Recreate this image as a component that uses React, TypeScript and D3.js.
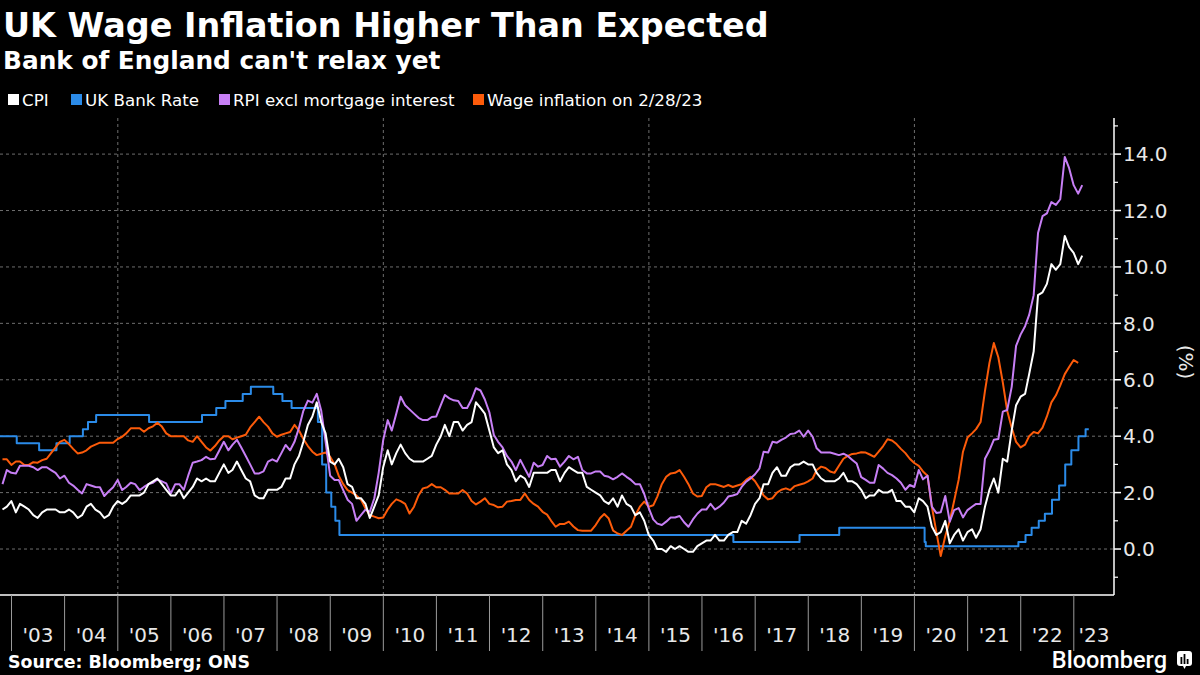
import React from "react";
import * as d3 from "d3";

// ---------- DATA (monthly, Oct 2002 .. Feb 2023) ----------
const SERIES_START_YEAR = 2002;
const SERIES_START_MONTH = 9; // October (0-based)

const cpi: number[] = [
  1.4, 1.5, 1.7,
  1.3, 1.6, 1.5, 1.4, 1.2, 1.1, 1.3, 1.4, 1.4, 1.4, 1.3, 1.3,
  1.4, 1.3, 1.1, 1.2, 1.5, 1.6, 1.4, 1.3, 1.1, 1.2, 1.5, 1.7,
  1.6, 1.7, 1.9, 1.9, 1.9, 2.0, 2.3, 2.4, 2.5, 2.3, 2.1, 1.9,
  1.9, 2.1, 1.8, 2.0, 2.2, 2.5, 2.4, 2.5, 2.4, 2.4, 2.7, 3.0,
  2.7, 2.8, 3.1, 2.8, 2.5, 2.4, 1.9, 1.8, 1.8, 2.1, 2.1, 2.1,
  2.2, 2.5, 2.5, 3.0, 3.3, 3.8, 4.4, 4.7, 5.2, 4.5, 4.1, 3.1,
  3.0, 3.2, 2.9, 2.3, 2.2, 1.8, 1.8, 1.6, 1.1, 1.5, 1.9, 2.9,
  3.5, 3.0, 3.4, 3.7, 3.4, 3.2, 3.1, 3.1, 3.1, 3.2, 3.3, 3.7,
  4.0, 4.4, 4.0, 4.5, 4.5, 4.2, 4.4, 4.5, 5.2, 5.0, 4.8, 4.2,
  3.6, 3.4, 3.5, 3.0, 2.8, 2.4, 2.6, 2.5, 2.2, 2.7, 2.7, 2.7,
  2.7, 2.8, 2.8, 2.4, 2.7, 2.9, 2.8, 2.7, 2.7, 2.2, 2.1, 2.0,
  1.9, 1.7, 1.6, 1.8, 1.5, 1.9, 1.6, 1.5, 1.2, 1.3, 1.0, 0.5,
  0.3, 0.0, 0.0, -0.1, 0.1, 0.0, 0.1, 0.0, -0.1, -0.1, 0.1, 0.2,
  0.3, 0.3, 0.5, 0.3, 0.3, 0.5, 0.6, 0.6, 1.0, 0.9, 1.2, 1.6,
  1.8, 2.3, 2.3, 2.7, 2.9, 2.6, 2.6, 2.9, 3.0, 3.0, 3.1, 3.0,
  3.0, 2.7, 2.5, 2.4, 2.4, 2.4, 2.5, 2.7, 2.4, 2.4, 2.3, 2.1,
  1.8, 1.9, 1.9, 2.1, 2.0, 2.0, 2.1, 1.7, 1.7, 1.5, 1.5, 1.3,
  1.8, 1.7, 1.5, 0.8, 0.5, 0.6, 1.0, 0.2, 0.5, 0.7, 0.3, 0.6,
  0.7, 0.4, 0.7, 1.5, 2.1, 2.5, 2.0, 3.2, 3.1, 4.2, 5.1, 5.4,
  5.5, 6.2, 7.0, 9.0, 9.1, 9.4, 10.1, 9.9, 10.1, 11.1, 10.7, 10.5,
  10.1, 10.4,
];

const rpix: number[] = [
  2.3, 2.8, 2.7,
  2.68, 2.95, 2.95, 2.95, 2.9, 2.8, 2.9, 2.9, 2.8, 2.7, 2.5, 2.6,
  2.35, 2.25, 2.1, 1.97, 2.3, 2.25, 2.2, 2.19, 1.88, 2.05, 2.19, 2.45,
  2.09, 2.2, 2.35, 2.3, 2.09, 2.2, 2.3, 2.35, 2.47, 2.4, 2.33, 1.97,
  2.3, 2.3, 2.1, 2.6, 3.06, 3.1, 3.15, 3.27, 3.18, 3.2, 3.49, 3.8,
  3.5, 3.69, 3.87, 3.6, 3.3, 3.0, 2.68, 2.68, 2.75, 3.1, 3.18, 3.1,
  3.4, 3.69, 3.5, 3.8, 4.3, 4.9, 5.26, 5.19, 5.5, 4.9, 3.8, 2.6,
  2.45, 2.45, 2.09, 1.75, 1.6, 1.0, 1.2, 1.4, 1.32, 1.8, 2.7, 3.86,
  4.57, 4.2, 4.8, 5.4, 5.1, 4.95, 4.8, 4.65, 4.57, 4.57, 4.68, 4.7,
  5.1, 5.46, 5.34, 5.27, 5.25, 5.0, 5.0, 5.3, 5.7, 5.62, 5.3, 4.85,
  4.04, 3.8, 3.6, 3.3, 3.1, 2.8, 3.16, 2.85, 2.56, 3.06, 2.92, 2.98,
  3.3, 3.18, 3.2, 2.92, 3.1, 3.3, 3.18, 3.27, 2.8, 2.68, 2.68, 2.75,
  2.75, 2.6, 2.56, 2.47, 2.56, 2.68, 2.56, 2.45, 2.3, 2.3, 1.95, 1.45,
  1.05, 0.9, 0.85, 0.97, 1.12, 1.12, 1.17, 0.95, 0.79, 1.05, 1.25, 1.4,
  1.4, 1.6, 1.4, 1.5, 1.65, 1.86, 1.9, 1.95, 2.2, 2.39, 2.5, 2.65,
  2.86, 3.45, 3.42, 3.8, 3.77, 3.87, 3.95, 4.08, 4.1, 4.2, 3.98, 4.2,
  3.98, 3.57, 3.42, 3.42, 3.42, 3.38, 3.33, 3.38, 3.3, 3.16, 3.03, 2.55,
  2.45, 2.35, 2.35, 2.98, 2.85, 2.7, 2.62, 2.5, 2.35, 2.1, 2.27, 2.2,
  2.8, 2.47, 2.6, 1.5, 1.28, 1.3, 1.88, 0.97, 1.38, 1.45, 1.12, 1.38,
  1.5, 1.6, 1.6, 3.2, 3.5, 3.87, 3.9, 4.87, 4.93, 5.75, 7.2, 7.6,
  7.9, 8.3, 9.0, 11.2, 11.8, 11.9, 12.3, 12.2, 12.4, 13.9, 13.5, 12.9,
  12.6, 12.9,
];

const wage: number[] = [
  3.18, 3.18, 2.98,
  3.1, 3.1, 2.98, 2.98, 3.08, 3.06, 3.15, 3.2, 3.4, 3.6, 3.8, 3.87,
  3.72, 3.55, 3.39, 3.42, 3.5, 3.63, 3.7, 3.77, 3.77, 3.77, 3.77, 3.9,
  3.98, 4.1, 4.28, 4.28, 4.28, 4.16, 4.28, 4.35, 4.48, 4.34, 4.1, 4.0,
  4.0, 4.0, 4.0, 3.85, 3.8, 4.0, 3.8, 3.6, 3.49, 3.65, 3.85, 4.0,
  4.0, 3.89, 3.95, 4.0, 4.05, 4.31, 4.5, 4.69, 4.5, 4.34, 4.1, 3.98,
  4.05, 4.1, 4.15, 4.4, 4.2, 3.9, 3.65, 3.45, 3.33, 3.38, 3.42, 3.27,
  3.0, 2.6, 2.3, 2.09, 2.0, 1.9, 1.75, 1.44, 1.2, 1.15, 1.09, 1.12,
  1.4, 1.6, 1.76, 1.7, 1.6, 1.26, 1.5, 1.9, 2.15, 2.19, 2.3, 2.19,
  2.19, 2.1, 1.97, 1.97, 1.97, 2.09, 1.97, 1.7, 1.58, 1.68, 1.8, 1.6,
  1.56, 1.48, 1.5, 1.68, 1.7, 1.74, 1.74, 1.97, 1.74, 1.6, 1.5, 1.32,
  1.22, 1.0, 0.79, 0.89, 0.89, 0.97, 0.8, 0.67, 0.65, 0.65, 0.65, 0.85,
  1.1, 1.24, 1.08, 0.65, 0.55, 0.5, 0.65, 0.79, 1.2, 1.5, 1.68, 1.5,
  1.55, 1.86, 2.3, 2.56, 2.68, 2.7, 2.8, 2.56, 2.3, 1.97, 1.86, 1.88,
  2.19, 2.3, 2.3, 2.25, 2.2, 2.27, 2.2, 2.25, 2.3, 2.45, 2.56, 2.4,
  2.15, 1.9, 1.76, 1.8, 2.0, 2.1, 2.15, 2.09, 2.23, 2.28, 2.32, 2.4,
  2.5, 2.8, 2.92, 2.87, 2.75, 2.7, 2.95, 3.2, 3.3, 3.37, 3.39, 3.43,
  3.42, 3.35, 3.27, 3.45, 3.65, 3.89, 3.85, 3.72, 3.55, 3.4, 3.2, 3.05,
  2.95, 2.75, 2.6, 1.5, 0.6, -0.25, 0.45, 1.0, 1.7, 2.45, 3.45, 3.95,
  4.1, 4.25, 4.5, 5.6, 6.6, 7.3, 6.8, 5.9, 4.9, 4.3, 3.8, 3.6,
  3.7, 4.0, 4.15, 4.1, 4.3, 4.7, 5.2, 5.45, 5.8, 6.2, 6.45, 6.7,
  6.6,
];

// UK Bank Rate: dates of change and new level
const rateDates: string[] = [
  "2002-10-01", "2003-02-06", "2003-07-10", "2003-11-06", "2004-02-05", "2004-05-06",
  "2004-06-10", "2004-08-05", "2005-08-04", "2006-08-03", "2006-11-09", "2007-01-11",
  "2007-05-10", "2007-07-05", "2007-12-06", "2008-02-07", "2008-04-10", "2008-10-08",
  "2008-11-06", "2008-12-04", "2009-01-08", "2009-02-05", "2009-03-05", "2016-08-04",
  "2017-11-02", "2018-08-02", "2020-03-11", "2020-03-19", "2021-12-16", "2022-02-03",
  "2022-03-17", "2022-05-05", "2022-06-16", "2022-08-04", "2022-09-22", "2022-11-03",
  "2022-12-15", "2023-02-02", "2023-03-23", "2023-04-14",
];
const rateValues: number[] = [
  4.0, 3.75, 3.5, 3.75, 4.0, 4.25,
  4.5, 4.75, 4.5, 4.75, 5.0, 5.25,
  5.5, 5.75, 5.5, 5.25, 5.0, 4.5,
  3.0, 2.0, 1.5, 1.0, 0.5, 0.25,
  0.5, 0.75, 0.25, 0.1, 0.25, 0.5,
  0.75, 1.0, 1.25, 1.75, 2.25, 3.0,
  3.5, 4.0, 4.25, 4.25,
];

const yearLabels: string[] = [
  "'03", "'04", "'05", "'06", "'07", "'08", "'09", "'10", "'11", "'12", "'13",
  "'14", "'15", "'16", "'17", "'18", "'19", "'20", "'21", "'22", "'23",
];
const yTicks: number[] = [0, 2, 4, 6, 8, 10, 12, 14];
const yMinorTicks: number[] = [-1, 1, 3, 5, 7, 9, 11, 13, 15];
const gridYears: number[] = [2005, 2010, 2015, 2020];

const legendItems = [
  { label: "CPI", color: "#ffffff" },
  { label: "UK Bank Rate", color: "#2b8be8" },
  { label: "RPI excl mortgage interest", color: "#c77ff5" },
  { label: "Wage inflation on 2/28/23", color: "#fc5b0a" },
];

// ---------- LAYOUT ----------
const W = 1200;
const H = 675;
const PLOT_LEFT = 0;
const PLOT_RIGHT = 1114;
const PLOT_TOP = 118;
const PLOT_BOTTOM = 595;
const FONT = "'DejaVu Sans', sans-serif";

const x = d3
  .scaleTime()
  .domain([new Date(2003, 0, 1), new Date(2023, 0, 1)])
  .range([11.5, 1073.8]);
const y = d3.scaleLinear().domain([-1.63, 15.28]).range([PLOT_BOTTOM, PLOT_TOP]);

const monthEnd = (i: number) =>
  new Date(SERIES_START_YEAR, SERIES_START_MONTH + i + 1, 0);

const monthlyLine = d3
  .line<number>()
  .x((_, i) => x(monthEnd(i)))
  .y((d) => y(d));

const rateLine = d3
  .line<number>()
  .curve(d3.curveStepAfter)
  .x((_, i) => x(new Date(rateDates[i] + "T00:00:00")))
  .y((d) => y(d));

export default function App() {
  const yearStarts = yearLabels.map((_, i) => new Date(2003 + i, 0, 1));
  const legendX = [8, 71, 219, 473];
  return (
    <svg
      width={W}
      height={H}
      viewBox={`0 0 ${W} ${H}`}
      style={{ display: "block", position: "absolute", left: 0, top: 0, background: "#000" }}
    >
      <rect x={0} y={0} width={W} height={H} fill="#000" />
      <text x={3} y={37} fill="#fff" fontFamily={FONT} fontWeight="bold" fontSize={33.4}>
        UK Wage Inflation Higher Than Expected
      </text>
      <text x={3} y={69} fill="#fff" fontFamily={FONT} fontWeight="bold" fontSize={24.8}>
        Bank of England can't relax yet
      </text>

      {legendItems.map((it, i) => (
        <g key={it.label} transform={`translate(${legendX[i]},0)`}>
          <rect x={0} y={94} width={11} height={11} fill={it.color} />
          <text x={14} y={106} fill="#fff" fontFamily={FONT} fontSize={16.7}>
            {it.label}
          </text>
        </g>
      ))}

      {/* grid */}
      {yTicks.map((t) => (
        <line
          key={"gy" + t}
          x1={PLOT_LEFT}
          x2={PLOT_RIGHT}
          y1={y(t)}
          y2={y(t)}
          stroke="#6e6e6e"
          strokeWidth={1}
          strokeDasharray="3,3"
        />
      ))}
      {gridYears.map((yr) => (
        <line
          key={"gx" + yr}
          x1={x(new Date(yr, 0, 1))}
          x2={x(new Date(yr, 0, 1))}
          y1={PLOT_TOP}
          y2={PLOT_BOTTOM}
          stroke="#6e6e6e"
          strokeWidth={1}
          strokeDasharray="3,3"
        />
      ))}

      {/* series */}
      <g fill="none" strokeWidth={2} strokeLinejoin="round">
        <path d={rateLine(rateValues) || ""} stroke="#2b8be8" />
        <path d={monthlyLine(wage) || ""} stroke="#fc5b0a" />
        <path d={monthlyLine(rpix) || ""} stroke="#c77ff5" />
        <path d={monthlyLine(cpi) || ""} stroke="#ffffff" />
      </g>

      {/* x axis */}
      <line x1={PLOT_LEFT} x2={PLOT_RIGHT} y1={PLOT_BOTTOM} y2={PLOT_BOTTOM} stroke="#fff" strokeWidth={1.5} />
      {yearStarts.map((d, i) => {
        const x0 = x(d);
        const x1 = i < yearStarts.length - 1 ? x(yearStarts[i + 1]) : PLOT_RIGHT;
        return (
          <g key={"yr" + i}>
            <line x1={x0} x2={x0} y1={PLOT_BOTTOM} y2={651} stroke="#9a9a9a" strokeWidth={1} />
            <text
              x={(x0 + x1) / 2}
              y={642}
              fill="#e8e8e8"
              fontFamily={FONT}
              fontSize={20}
              textAnchor="middle"
            >
              {yearLabels[i]}
            </text>
          </g>
        );
      })}

      {/* y axis (right) */}
      <line x1={PLOT_RIGHT} x2={PLOT_RIGHT} y1={PLOT_TOP} y2={PLOT_BOTTOM} stroke="#fff" strokeWidth={1.5} />
      {yMinorTicks.map((t) => (
        <line key={"mt" + t} x1={PLOT_RIGHT} x2={PLOT_RIGHT + 4} y1={y(t)} y2={y(t)} stroke="#fff" strokeWidth={1.2} />
      ))}
      {yTicks.map((t) => (
        <g key={"yt" + t}>
          <line x1={PLOT_RIGHT} x2={PLOT_RIGHT + 7} y1={y(t)} y2={y(t)} stroke="#fff" strokeWidth={1.5} />
          <text
            x={1123}
            y={y(t)}
            dy="0.36em"
            fill="#e8e8e8"
            fontFamily={FONT}
            fontSize={20}
          >
            {t.toFixed(1)}
          </text>
        </g>
      ))}
      <text
        transform={`translate(1179,362) rotate(90)`}
        fill="#e8e8e8"
        fontFamily={FONT}
        fontSize={20}
        textAnchor="middle"
      >
        (%)
      </text>

      {/* footer */}
      <text x={8} y={668} fill="#fff" fontFamily={FONT} fontWeight="bold" fontSize={17.4}>
        Source: Bloomberg; ONS
      </text>
      <text x={1167} y={668} fill="#fff" fontFamily="Roboto, sans-serif" fontWeight={500} fontSize={23.5} textAnchor="end">
        Bloomberg
      </text>
      <g transform="translate(1177,651)">
        <rect x={0} y={0} width={15} height={15} rx={3} fill="#fff" />
        <path d="M6 15 L7.5 18 L9 15 Z" fill="#fff" />
        <rect x={3.5} y={6} width={1.8} height={7} fill="#000" />
        <rect x={6.6} y={3} width={1.8} height={10} fill="#000" />
        <rect x={9.7} y={8} width={1.8} height={5} fill="#000" />
      </g>
    </svg>
  );
}
